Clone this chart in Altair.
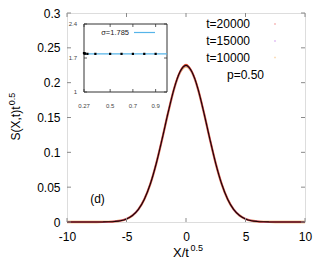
import altair as alt
import pandas as pd

# ---------------- data ----------------
X = [-10, -9, -8, -7.5, -7, -6.5, -6, -5.5, -5, -4.5, -4, -3.5, -3, -2.5, -2, -1.5, -1,
     -0.75, -0.5, -0.25, 0, 0.25, 0.5, 0.75, 1, 1.5, 2, 2.5, 3, 3.5, 4, 4.5, 5, 5.5, 6,
     6.5, 7, 7.5, 8, 9, 10]
S_10000 = [0, 0, 0, 0, 0.0001, 0.0003, 0.0008, 0.0019, 0.0044, 0.0093, 0.0181, 0.0327,
           0.0544, 0.0838, 0.1193, 0.1570, 0.1911, 0.2046, 0.2149, 0.2213, 0.2235, 0.2213,
           0.2149, 0.2046, 0.1911, 0.1570, 0.1193, 0.0838, 0.0544, 0.0327, 0.0181, 0.0093,
           0.0044, 0.0019, 0.0008, 0.0003, 0.0001, 0, 0, 0, 0]
S_15000 = [0, 0, 0, 0, 0.0001, 0.0003, 0.0008, 0.0019, 0.0044, 0.0093, 0.0181, 0.0328,
           0.0545, 0.0840, 0.1195, 0.1572, 0.1914, 0.2050, 0.2155, 0.2222, 0.2248, 0.2220,
           0.2154, 0.2049, 0.1913, 0.1571, 0.1194, 0.0839, 0.0545, 0.0328, 0.0181, 0.0093,
           0.0044, 0.0019, 0.0008, 0.0003, 0.0001, 0, 0, 0, 0]
S_20000 = [0, 0, 0, 0, 0.0001, 0.0003, 0.0008, 0.0019, 0.0044, 0.0094, 0.0182, 0.0329,
           0.0546, 0.0841, 0.1197, 0.1575, 0.1918, 0.2056, 0.2162, 0.2232, 0.2262, 0.2230,
           0.2160, 0.2055, 0.1916, 0.1574, 0.1196, 0.0840, 0.0546, 0.0328, 0.0182, 0.0093,
           0.0044, 0.0019, 0.0008, 0.0003, 0.0001, 0, 0, 0, 0]
SERIES = ["t=20000", "t=15000", "t=10000"]
COLORS = ["#e04a30", "#c070e0", "#f0a040"]
WIDTHS = [1.4, 1.8, 2.3]

INSET_X = [0.27, 0.275, 0.28, 0.3, 0.37, 0.5, 0.6, 0.7, 0.8, 0.9]
INSET_Y = [1.80, 1.795, 1.79, 1.785, 1.785, 1.785, 1.785, 1.785, 1.785, 1.785]
SIGMA = 1.785

X_TICKS = [-10, -5, 0, 5, 10]
Y_TICKS = [0, 0.05, 0.1, 0.15, 0.2, 0.25, 0.3]
IX_TICKS = [0.27, 0.5, 0.7, 0.9]
IY_TICKS = [1, 1.7, 2.4]
IX_DOMAIN = [0.27, 1.0]
IY_DOMAIN = [1, 2.4]

FONT = "Liberation Sans"
W, H = 238, 209
BORDER = "#8a8a8a"

# ---------------- main panel ----------------
df = pd.DataFrame({"X": X * 3,
                   "S": S_20000 + S_15000 + S_10000,
                   "t": [s for s in SERIES for _ in X]})
df_mean = pd.DataFrame({"X": X, "S": [(a + b + c) / 3 for a, b, c in zip(S_20000, S_15000, S_10000)]})

xs = alt.Scale(domain=[-10, 10], nice=False, zero=False)
ys = alt.Scale(domain=[0, 0.3], nice=False)
xax = alt.Axis(values=X_TICKS, title=None, ticks=False, tickSize=0, domain=False, grid=False,
               labelFont=FONT, labelFontSize=12, labelColor="black", labelPadding=9,
               labelFlush=False, labelExpr="datum.value + ''")
yax = alt.Axis(values=Y_TICKS, title=None, ticks=False, tickSize=0, domain=False, grid=False,
               labelFont=FONT, labelFontSize=12, labelColor="black", labelPadding=7,
               labelFlush=False, format="~g")


def xe(field):
    return alt.X(field, type="quantitative", scale=xs, axis=xax)


def ye(field):
    return alt.Y(field, type="quantitative", scale=ys, axis=yax)


layers = []
for s, c, w in zip(SERIES[::-1], COLORS[::-1], WIDTHS[::-1]):
    layers.append(alt.Chart(df[df.t == s]).mark_line(color=c, strokeWidth=w, interpolate="monotone")
                  .encode(x=xe("X"), y=ye("S")))
layers.append(alt.Chart(df_mean).mark_line(color="#1a0505", strokeWidth=1.1, interpolate="monotone")
              .encode(x=xe("X"), y=ye("S")))

dxt = pd.DataFrame({"v": X_TICKS})
dyt = pd.DataFrame({"v": Y_TICKS})
layers.append(alt.Chart(dxt).mark_rule(color=BORDER, strokeWidth=1)
              .encode(x=xe("v"), y=alt.value(H), y2=alt.value(H - 4)))
layers.append(alt.Chart(dxt).mark_rule(color=BORDER, strokeWidth=1)
              .encode(x=xe("v"), y=alt.value(0), y2=alt.value(4)))
layers.append(alt.Chart(dyt).mark_rule(color=BORDER, strokeWidth=1)
              .encode(y=ye("v"), x=alt.value(0), x2=alt.value(4)))
layers.append(alt.Chart(dyt).mark_rule(color=BORDER, strokeWidth=1)
              .encode(y=ye("v"), x=alt.value(W), x2=alt.value(W - 4)))

# legend
leg = pd.DataFrame({"lab": SERIES, "c": ["#f4a0a0", "#d8a8f0", "#f8d0a0"], "yy": [11, 28, 44.5]})
layers.append(alt.Chart(leg).mark_text(font=FONT, fontSize=12, align="right", baseline="middle", color="black")
              .encode(x=alt.value(183), y=alt.Y("yy:Q", scale=None), text="lab:N"))
layers.append(alt.Chart(leg).mark_point(filled=True, size=2, shape="square", opacity=1)
              .encode(x=alt.value(208), y=alt.Y("yy:Q", scale=None),
                      color=alt.Color("c:N", scale=None)))
txt = pd.DataFrame({"t": ["p=0.50", "(d)"], "xx": [197, 30.5], "yy": [62, 186]})
layers.append(alt.Chart(txt.iloc[[0]]).mark_text(font=FONT, fontSize=12, align="right", baseline="middle")
              .encode(x=alt.X("xx:Q", scale=None), y=alt.Y("yy:Q", scale=None), text="t:N"))
layers.append(alt.Chart(txt.iloc[[1]]).mark_text(font=FONT, fontSize=12, align="center", baseline="middle")
              .encode(x=alt.X("xx:Q", scale=None), y=alt.Y("yy:Q", scale=None), text="t:N"))

# axis titles with superscripts
ttl = pd.DataFrame({"t": ["X/t", "0.5"], "xx": [106, 123.5], "yy": [244, 238], "fs": [13, 9]})
layers.append(alt.Chart(ttl).mark_text(font=FONT, align="left", baseline="alphabetic")
              .encode(x=alt.X("xx:Q", scale=None), y=alt.Y("yy:Q", scale=None), text="t:N",
                      size=alt.Size("fs:Q", scale=None)))
yttl = pd.DataFrame({"t": ["S(X,t)t", "0.5"], "xx": [-51.5, -55], "yy": [110.5, 86], "fs": [12, 9]})
layers.append(alt.Chart(yttl).mark_text(font=FONT, angle=270, align="center", baseline="middle")
              .encode(x=alt.X("xx:Q", scale=None), y=alt.Y("yy:Q", scale=None), text="t:N",
                      size=alt.Size("fs:Q", scale=None)))

main = alt.layer(*layers)

# ---------------- inset ----------------
IL, IR, IT, IB = 17, 100, 11, 79
ixs = alt.Scale(domain=IX_DOMAIN, range=[IL, IR], nice=False, zero=False)
iys = alt.Scale(domain=IY_DOMAIN, range=[IB, IT], nice=False, zero=False)


def ixe(field):
    return alt.X(field, type="quantitative", scale=ixs, axis=None)


def iye(field):
    return alt.Y(field, type="quantitative", scale=iys, axis=None)


ilayers = []
frame = pd.DataFrame({"x1": [IX_DOMAIN[0]], "x2": [IX_DOMAIN[1]], "y1": [IY_DOMAIN[0]], "y2": [IY_DOMAIN[1]]})
ilayers.append(alt.Chart(frame).mark_rect(fillOpacity=0, stroke="#333", strokeWidth=1)
               .encode(x=ixe("x1"), x2="x2", y=iye("y1"), y2="y2"))
sig = pd.DataFrame({"x1": [IX_DOMAIN[0]], "x2": [IX_DOMAIN[1]], "y": [SIGMA]})
ilayers.append(alt.Chart(sig).mark_rule(color="#56b4e9", strokeWidth=1.2)
               .encode(x=ixe("x1"), x2="x2", y=iye("y")))
ipts = pd.DataFrame({"x": INSET_X, "y": INSET_Y})
ilayers.append(alt.Chart(ipts).mark_square(color="black", size=5, opacity=1)
               .encode(x=ixe("x"), y=iye("y")))
ixt = pd.DataFrame({"v": IX_TICKS, "lab": ["0.27", "0.5", "0.7", "0.9"]})
iyt = pd.DataFrame({"v": IY_TICKS, "lab": ["1", "1.7", "2.4"]})
ilayers.append(alt.Chart(ixt).mark_rule(color="#333", strokeWidth=0.8)
               .encode(x=ixe("v"), y=alt.value(IB), y2=alt.value(IB - 3)))
ilayers.append(alt.Chart(ixt).mark_rule(color="#333", strokeWidth=0.8)
               .encode(x=ixe("v"), y=alt.value(IT), y2=alt.value(IT + 3)))
ilayers.append(alt.Chart(iyt).mark_rule(color="#333", strokeWidth=0.8)
               .encode(y=iye("v"), x=alt.value(IL), x2=alt.value(IL + 3)))
ilayers.append(alt.Chart(iyt).mark_rule(color="#333", strokeWidth=0.8)
               .encode(y=iye("v"), x=alt.value(IR), x2=alt.value(IR - 3)))
ilayers.append(alt.Chart(ixt).mark_text(font=FONT, fontSize=6, color="#444", align="center", baseline="middle")
               .encode(x=ixe("v"), y=alt.value(92.5), text="lab:N"))
ilayers.append(alt.Chart(iyt).mark_text(font=FONT, fontSize=6, color="#444", align="right", baseline="middle")
               .encode(y=iye("v"), x=alt.value(10), text="lab:N"))
ileg = pd.DataFrame({"t": ["σ=1.785"]})
ilayers.append(alt.Chart(ileg).mark_text(font=FONT, fontSize=7.5, color="#222", align="right", baseline="middle")
               .encode(x=alt.value(62), y=alt.value(20), text="t:N"))
ilayers.append(alt.Chart(ileg).mark_rule(color="#56b4e9", strokeWidth=1.2)
               .encode(x=alt.value(67), x2=alt.value(88), y=alt.value(19.5)))

inset = alt.layer(*ilayers)

chart = (alt.layer(main, inset)
         .resolve_scale(x="independent", y="independent")
         .properties(width=W, height=H,
                     padding={"left": 59, "top": 5, "right": 14, "bottom": 43},
                     autosize=alt.AutoSizeParams(type="none"))
         .configure_view(stroke=BORDER, strokeWidth=1.4)
         .configure(background="white"))

chart.save("out.html", embed_options={"renderer": "svg", "actions": False})
